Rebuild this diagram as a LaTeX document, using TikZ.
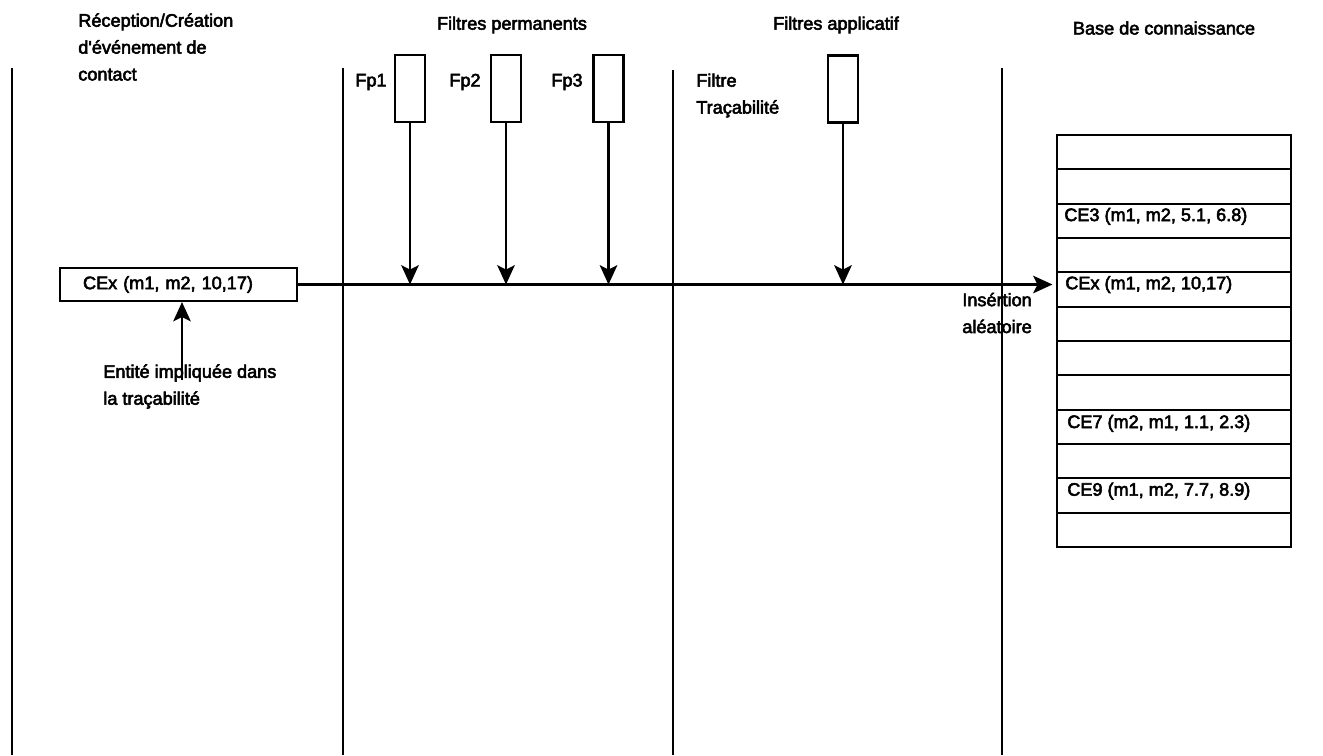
\documentclass[tikz,border=0pt]{standalone}
\usepackage{fontspec}
\setmainfont{Liberation Sans}[FakeBold=3]
\usetikzlibrary{arrows.meta,calc}

\tikzset{
  texte/.style={font=\fontsize{10.3}{15.3}\selectfont, inner sep=0pt, align=left},
  ligne/.style={line width=1.2pt},
  filtre/.style={draw, line width=1.2pt, minimum width=0.6cm, minimum height=1.34cm, inner sep=0pt},
  evt/.style={draw, line width=1.2pt, font=\fontsize{10.3}{15.3}\selectfont, minimum height=0.66cm,
    inner xsep=0.46cm, inner ysep=0pt, text width=3.82cm, align=left},
  case/.style={draw, line width=1.2pt, minimum width=4.68cm, minimum height=0.6866cm, inner sep=0pt},
  fleche/.style={line width=1.2pt, -{Stealth[length=11pt,width=10pt,inset=2.5pt]}},
}

\begin{document}
\begin{tikzpicture}[x=0.02cm, y=-0.02cm]
    \useasboundingbox (0,0) rectangle (1323,755);

    % Draw the lanes
    \foreach \x/\y in {12/68, 343/68, 673/70, 1002/68}
        \draw[ligne] (\x,\y) -- (\x,755);

    \node[texte, anchor=west] (titre1) at (78,47) {Réception/Création\\d\textquotesingle événement de\\contact};
    \node[texte] (titre2) at (512,25) {Filtres permanents};
    \node[texte] (titre3) at (836,25) {Filtres applicatif};
    \node[texte] (titre4) at (1164,28) {Base de connaissance};

    % filters
    \node[filtre] (fp1) at (410,88.5) {};
    \node[filtre] (fp2) at (506,88.5) {};
    \node[filtre] (fp3) at (608.5,88.5) {};
    \node[filtre] (fa) at (843,89) {};
    \node[texte] (lfp1) at (371,82) {Fp1};
    \node[texte] (lfp2) at (465,82) {Fp2};
    \node[texte] (lfp3) at (567,82) {Fp3};
    \node[texte, anchor=west] (lfa) at (696,95.5) {Filtre\\Traçabilité};

    % contact event
    \node[evt] (cex) at (178.5,284.5) {CEx (m1, m2, 10,17)};
    \coordinate (pied) at (182,380);
    \draw[fleche] (pied) -- (pied |- cex.south);
    \node[texte, anchor=west] (ent) at (103,386.5) {Entité impliquée dans\\la traçabilité};

    % knowledge base
    \foreach \i in {1,...,12}
        \node[case] (r\i) at (1174,{135+34.33*(\i-0.5)}) {};
    \node[texte, anchor=north west] (ce3) at ($(r3.north west)+(8,5)$) {CE3 (m1, m2, 5.1, 6.8)};
    \node[texte, anchor=north west] (cex2) at ($(r5.north west)+(9,4.5)$) {CEx (m1, m2, 10,17)};
    \node[texte, anchor=north west] (ce7) at ($(r9.north west)+(11,6)$) {CE7 (m2, m1, 1.1, 2.3)};
    \node[texte, anchor=north west] (ce9) at ($(r11.north west)+(11,5)$) {CE9 (m1, m2, 7.7, 8.9)};

    % flow
    \draw[fleche, shorten >=2pt] (cex.east) -- (cex.east -| r5.west);
    \foreach \f in {fp1, fp2, fp3, fa}
        \draw[fleche] (\f.south) -- (\f.south |- cex.east);
    \node[texte, anchor=west] (ins) at (962,313) {Insértion\\aléatoire};
\end{tikzpicture}
\end{document}
